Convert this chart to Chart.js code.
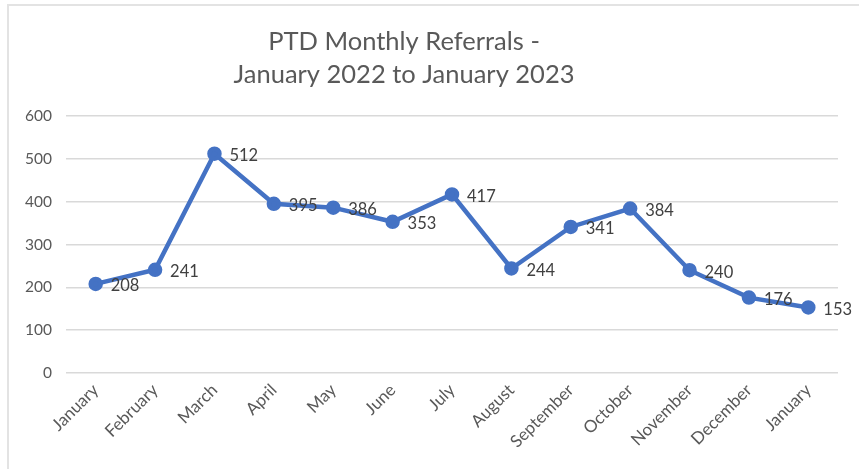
<!DOCTYPE html>
<html>
<head>
<meta charset="utf-8">
<title>PTD Monthly Referrals</title>
<script src="https://cdn.jsdelivr.net/npm/chart.js@4.4.1/dist/chart.umd.min.js"></script>
<style>
  html, body { margin: 0; padding: 0; background: #fff; overflow: hidden; }
  .frame {
    position: absolute; left: 7px; top: 4px; width: 900px; height: 500px;
    border-left: 2px solid #e3e3e3; border-top: 2px solid #e3e3e3;
  }
  #referralsChart { position: absolute; left: 0; top: 0; }
</style>
</head>
<body>
<div class="frame"></div>
<canvas id="referralsChart" width="859" height="469"></canvas>
<script>
// Chart data
const months = ['January', 'February', 'March', 'April', 'May', 'June', 'July',
                'August', 'September', 'October', 'November', 'December', 'January'];
const referrals = [208, 241, 512, 395, 386, 353, 417, 244, 341, 384, 240, 176, 153];
const titleLines = ['PTD Monthly Referrals -', 'January 2022 to January 2023'];

const FONT = 'Lato, "Open Sans", sans-serif';

// Value labels to the right of each point
const pointLabels = {
  id: 'pointLabels',
  afterDatasetsDraw(chart) {
    const ctx = chart.ctx;
    const meta = chart.getDatasetMeta(0);
    ctx.save();
    ctx.font = '16.5px ' + FONT;
    ctx.fillStyle = '#404040';
    ctx.textAlign = 'left';
    ctx.textBaseline = 'middle';
    meta.data.forEach((pt, i) => {
      ctx.fillText(String(referrals[i]), pt.x + 15, pt.y + 2);
    });
    ctx.restore();
  }
};

// Two-line title, sits a bit left of the plot centre like the original
const titleText = {
  id: 'titleText',
  afterDraw(chart) {
    const ctx = chart.ctx;
    ctx.save();
    ctx.font = '25.5px ' + FONT;
    ctx.fillStyle = '#595959';
    ctx.textAlign = 'center';
    ctx.textBaseline = 'middle';
    ctx.fillText(titleLines[0], 404, 42);
    ctx.fillText(titleLines[1], 404, 75);
    ctx.restore();
  }
};

new Chart(document.getElementById('referralsChart').getContext('2d'), {
  type: 'line',
  data: {
    labels: months,
    datasets: [{
      data: referrals,
      borderColor: '#4472C4',
      backgroundColor: '#4472C4',
      borderWidth: 4.5,
      pointRadius: 5,
      pointHoverRadius: 5,
      tension: 0,
      fill: false
    }]
  },
  options: {
    responsive: false,
    animation: false,
    layout: { padding: { left: 20, right: 21, top: 116, bottom: 0 } },
    plugins: {
      legend: { display: false },
      title: { display: false },
      tooltip: { enabled: false }
    },
    scales: {
      y: {
        min: 0,
        max: 600,
        ticks: { stepSize: 100, color: '#595959', font: { family: FONT, size: 15.5 }, padding: 14 },
        grid: { color: '#d9d9d9', lineWidth: 1.5, drawTicks: false },
        border: { display: false },
        afterFit(axis) { axis.width = 46; }
      },
      x: {
        offset: true,
        ticks: {
          color: '#595959',
          font: { family: FONT, size: 17 },
          minRotation: 45,
          maxRotation: 45,
          padding: 7,
          autoSkip: false
        },
        grid: { display: false, drawTicks: false },
        border: { display: false },
        afterFit(axis) { axis.height = 96; }
      }
    }
  },
  plugins: [pointLabels, titleText]
});
</script>
</body>
</html>
